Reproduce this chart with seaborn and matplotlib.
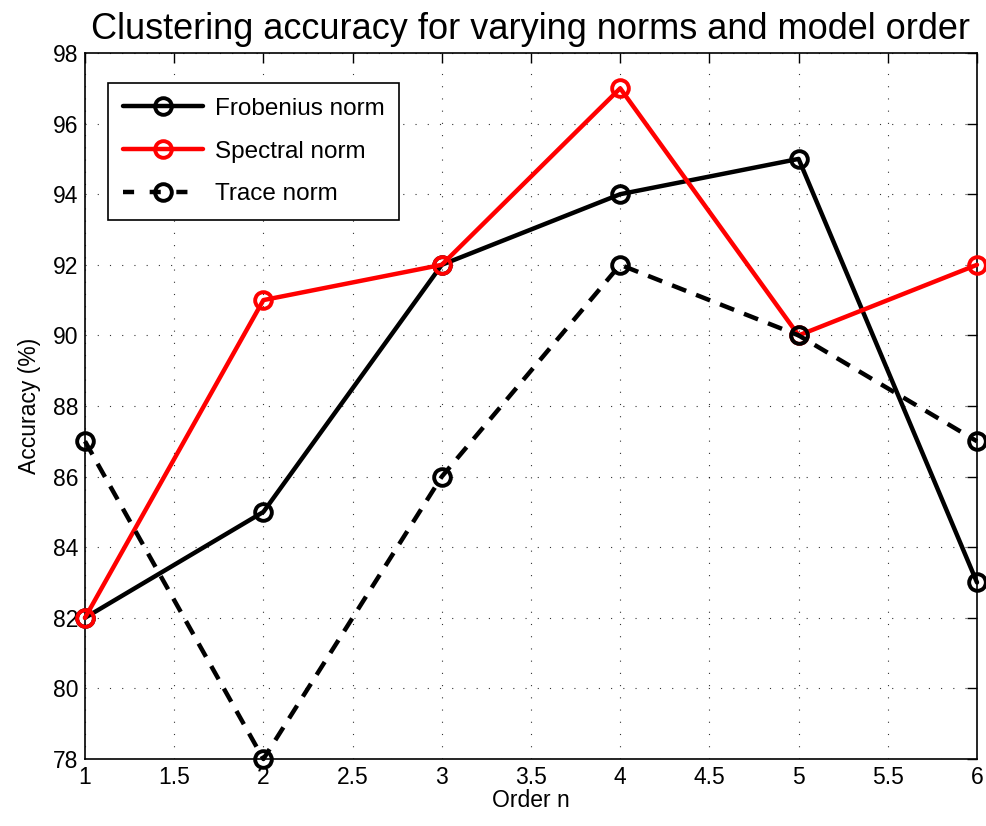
import matplotlib
matplotlib.use("Agg")
import matplotlib.pyplot as plt
import seaborn as sns
import pandas as pd

orders = [1, 2, 3, 4, 5, 6]
frobenius = [82, 85, 92, 94, 95, 83]
spectral = [82, 91, 92, 97, 90, 92]
trace = [87, 78, 86, 92, 90, 87]

sns.set_style("white")
plt.rcParams['font.family'] = ['Liberation Sans', 'DejaVu Sans']
plt.rcParams['text.color'] = 'black'
plt.rcParams['axes.labelcolor'] = 'black'

fig = plt.figure(figsize=(9.87, 8.26), dpi=100)
ax = fig.add_axes([85 / 987, 1 - 759 / 826, (977 - 85) / 987, (759 - 53) / 826])

series = [
    ("Frobenius norm", frobenius, "black", "-"),
    ("Spectral norm", spectral, "red", "-"),
    ("Trace norm", trace, "black", "--"),
]
for name, vals, col, ls in series:
    df = pd.DataFrame({"Order n": orders, "Accuracy (%)": vals})
    sns.lineplot(data=df, x="Order n", y="Accuracy (%)", ax=ax, color=col,
                 linestyle=ls, linewidth=3.2, marker="o", markersize=12,
                 markerfacecolor="none", markeredgecolor=col,
                 markeredgewidth=2.8, label=name, clip_on=False, zorder=3)
for line in ax.get_lines():
    if line.get_linestyle() == "--":
        line.set_dashes((3.4, 2.4))

ax.set_xlim(1, 6)
ax.set_ylim(78, 98)
ax.set_xticks([1, 1.5, 2, 2.5, 3, 3.5, 4, 4.5, 5, 5.5, 6])
ax.set_xticklabels(["1", "1.5", "2", "2.5", "3", "3.5", "4", "4.5", "5", "5.5", "6"])
ax.set_yticks(range(78, 99, 2))
ax.tick_params(direction="in", length=7, width=1, labelsize=16.5, top=True, right=True,
               colors="black", pad=5)
ax.grid(True, linestyle=(0, (1, 10)), color="black", linewidth=0.8, alpha=0.8)
for s in ax.spines.values():
    s.set_color("black")
    s.set_linewidth(1.2)

ax.set_xlabel("Order n", fontsize=16.5, labelpad=0)
ax.set_ylabel("Accuracy (%)", fontsize=16.5, labelpad=8)
ax.set_title("Clustering accuracy for varying norms and model order", fontsize=26, pad=10)

leg = ax.legend(loc="upper left", bbox_to_anchor=(0.026, 0.957), fontsize=17.5,
                frameon=True, fancybox=False, edgecolor="black", framealpha=1,
                handlelength=3.3, borderpad=0.6, labelspacing=0.85, handletextpad=0.5,
                borderaxespad=0)
leg.get_frame().set_linewidth(1.2)
leg.set_zorder(5)
for h in leg.get_lines():
    if h.get_linestyle() == "--":
        h.set_dashes((2.5, 3.5))

fig.savefig("out.png", dpi=100, facecolor="white")
